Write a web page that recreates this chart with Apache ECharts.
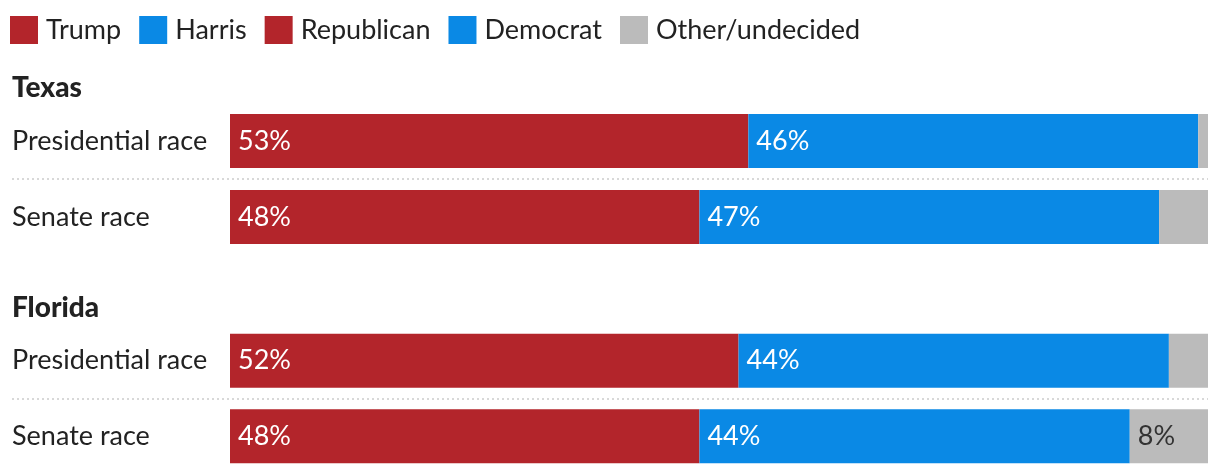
<!DOCTYPE html>
<html>
<head>
<meta charset="utf-8">
<script src="https://cdn.jsdelivr.net/npm/echarts@6/dist/echarts.min.js"></script>
<style>
html,body{margin:0;padding:0;background:#fff;}
#chart{width:1220px;height:474px;}
</style>
</head>
<body>
<div id="chart"></div>
<script>
const rowLabels = ['Presidential race', 'Senate race'];
const stateNames = ['Texas', 'Florida'];
const legendNames = ['Trump', 'Harris', 'Republican', 'Democrat', 'Other/undecided'];

const texasTrump = [53, 0];
const texasHarris = [46, 0];
const texasRepublican = [0, 48];
const texasDemocrat = [0, 47];
const texasOther = [1, 5];

const floridaTrump = [52, 0];
const floridaHarris = [44, 0];
const floridaRepublican = [0, 48];
const floridaDemocrat = [0, 44];
const floridaOther = [4, 8];

const RED = '#b3252b', BLUE = '#0a89e5', GRAY = '#bbbbbb';
const FONT = 'Lato';
const colors = [RED, BLUE, RED, BLUE, GRAY];

const stateData = [
  [texasTrump, texasHarris, texasRepublican, texasDemocrat, texasOther],
  [floridaTrump, floridaHarris, floridaRepublican, floridaDemocrat, floridaOther]
];

const series = [];
stateData.forEach((arrs, gi) => {
  arrs.forEach((vals, si) => {
    const isOther = si === 4;
    series.push({
      type: 'bar',
      name: legendNames[si],
      xAxisIndex: gi,
      yAxisIndex: gi,
      stack: 'total' + gi,
      barWidth: 54,
      data: vals,
      itemStyle: { color: colors[si] },
      emphasis: { disabled: true },
      label: {
        show: true,
        position: 'insideLeft',
        distance: 8,
        color: isOther ? '#333' : '#fff',
        fontSize: 27,
        fontFamily: FONT,
        padding: [4, 0, 0, 0],
        formatter: p => (isOther ? (p.value >= 8 ? p.value + '%' : '') : (p.value > 0 ? p.value + '%' : ''))
      }
    });
  });
});

const gridTops = [103, 323];
const chart = echarts.init(document.getElementById('chart'));
chart.setOption({
  animation: false,
  textStyle: { fontFamily: FONT },
  legend: {
    data: legendNames,
    left: 10, top: 16,
    padding: 0,
    itemWidth: 28, itemHeight: 28, itemGap: 18,
    icon: 'rect',
    selectedMode: false,
    textStyle: { fontSize: 27, color: '#222', fontFamily: FONT, padding: [0, 0, 0, 3] }
  },
  title: stateNames.map((s, i) => ({
    text: s,
    left: 12,
    top: gridTops[i] - 29,
    padding: 0,
    textStyle: { fontSize: 28, fontWeight: 900, color: '#222', fontFamily: FONT }
  })),
  grid: gridTops.map(t => ({ left: 230, right: 12, top: t, height: 152 })),
  xAxis: gridTops.map((t, i) => ({ gridIndex: i, type: 'value', min: 0, max: 100, show: false })),
  yAxis: gridTops.map((t, i) => ({
    gridIndex: i,
    type: 'category',
    inverse: true,
    data: rowLabels,
    axisLine: { show: false },
    axisTick: { show: false },
    axisLabel: {
      align: 'left',
      margin: 218,
      fontSize: 27,
      color: '#222',
      fontFamily: FONT,
      padding: [0, 0, 9, 0]
    }
  })),
  graphic: gridTops.map(t => ({
    type: 'line',
    shape: { x1: 12, y1: t + 76, x2: 1208, y2: t + 76 },
    style: { stroke: '#d8d8d8', lineWidth: 2, lineDash: [2, 3] },
    silent: true
  })),
  series: series
});
</script>
</body>
</html>
